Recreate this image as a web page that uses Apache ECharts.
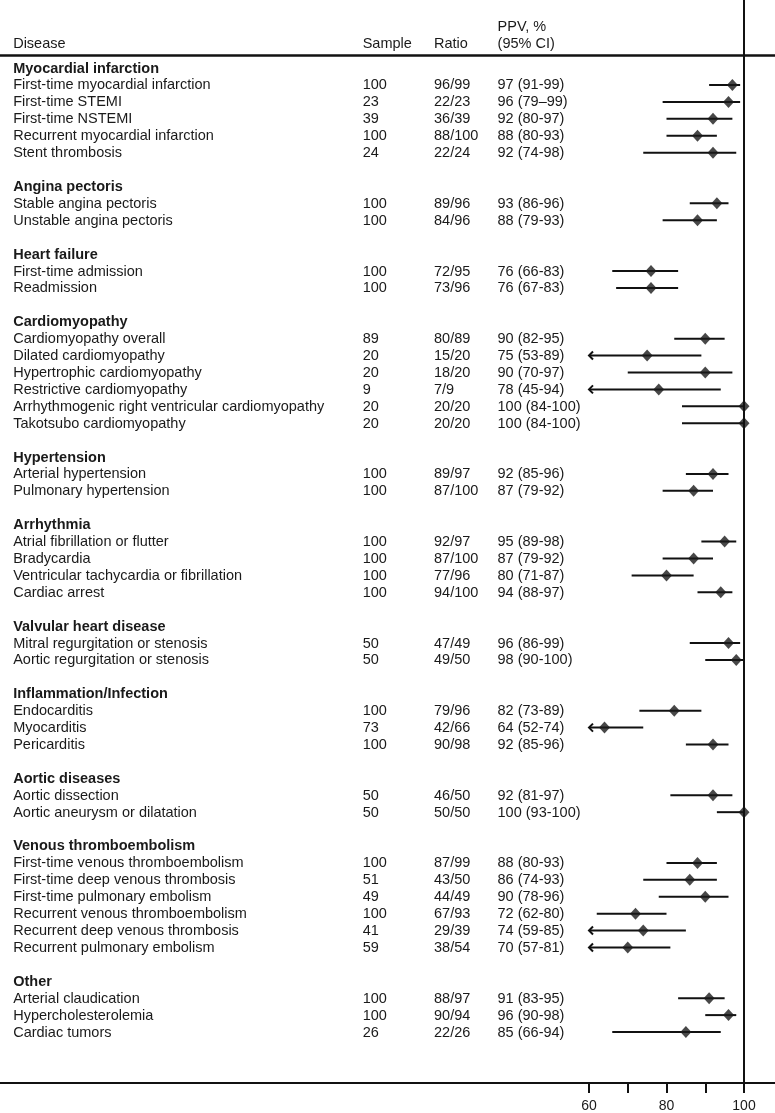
<!DOCTYPE html>
<html>
<head>
<meta charset="utf-8">
<script src="https://cdn.jsdelivr.net/npm/echarts@6/dist/echarts.min.js"></script>
<style>
html,body{margin:0;padding:0;background:#fff;}
#chart{width:775px;height:1113px;}
</style>
</head>
<body>
<div id="chart"></div>
<script>
// ---------------- data ----------------
const groupNames = ["Myocardial infarction","Angina pectoris","Heart failure","Cardiomyopathy","Hypertension","Arrhythmia","Valvular heart disease","Inflammation/Infection","Aortic diseases","Venous thromboembolism","Other"];
const groupCounts = [5,2,2,6,2,4,2,3,2,6,3];
const diseases = [
  "First-time myocardial infarction","First-time STEMI","First-time NSTEMI","Recurrent myocardial infarction","Stent thrombosis",
  "Stable angina pectoris","Unstable angina pectoris",
  "First-time admission","Readmission",
  "Cardiomyopathy overall","Dilated cardiomyopathy","Hypertrophic cardiomyopathy","Restrictive cardiomyopathy","Arrhythmogenic right ventricular cardiomyopathy","Takotsubo cardiomyopathy",
  "Arterial hypertension","Pulmonary hypertension",
  "Atrial fibrillation or flutter","Bradycardia","Ventricular tachycardia or fibrillation","Cardiac arrest",
  "Mitral regurgitation or stenosis","Aortic regurgitation or stenosis",
  "Endocarditis","Myocarditis","Pericarditis",
  "Aortic dissection","Aortic aneurysm or dilatation",
  "First-time venous thromboembolism","First-time deep venous thrombosis","First-time pulmonary embolism","Recurrent venous thromboembolism","Recurrent deep venous thrombosis","Recurrent pulmonary embolism",
  "Arterial claudication","Hypercholesterolemia","Cardiac tumors"
];
const samples = [100,23,39,100,24, 100,100, 100,100, 89,20,20,9,20,20, 100,100, 100,100,100,100, 50,50, 100,73,100, 50,50, 100,51,49,100,41,59, 100,100,26];
const ratios = ["96/99","22/23","36/39","88/100","22/24", "89/96","84/96", "72/95","73/96", "80/89","15/20","18/20","7/9","20/20","20/20", "89/97","87/100", "92/97","87/100","77/96","94/100", "47/49","49/50", "79/96","42/66","90/98", "46/50","50/50", "87/99","43/50","44/49","67/93","29/39","38/54", "88/97","90/94","22/26"];
const ppv   = [97,96,92,88,92, 93,88, 76,76, 90,75,90,78,100,100, 92,87, 95,87,80,94, 96,98, 82,64,92, 92,100, 88,86,90,72,74,70, 91,96,85];
const ciLow = [91,79,80,80,74, 86,79, 66,67, 82,53,70,45,84,84, 85,79, 89,79,71,88, 86,90, 73,52,85, 81,93, 80,74,78,62,59,57, 83,90,66];
const ciHigh= [99,99,97,93,98, 96,93, 83,83, 95,89,97,94,100,100, 96,92, 98,92,87,97, 99,100, 89,74,96, 97,100, 93,93,96,80,85,81, 95,98,94];
const ppvLabels = ["97 (91-99)","96 (79\u201399)","92 (80-97)","88 (80-93)","92 (74-98)", "93 (86-96)","88 (79-93)", "76 (66-83)","76 (67-83)", "90 (82-95)","75 (53-89)","90 (70-97)","78 (45-94)","100 (84-100)","100 (84-100)", "92 (85-96)","87 (79-92)", "95 (89-98)","87 (79-92)","80 (71-87)","94 (88-97)", "96 (86-99)","98 (90-100)", "82 (73-89)","64 (52-74)","92 (85-96)", "92 (81-97)","100 (93-100)", "88 (80-93)","86 (74-93)","90 (78-96)","72 (62-80)","74 (59-85)","70 (57-81)", "91 (83-95)","96 (90-98)","85 (66-94)"];
const headerLabels = ["Disease","Sample","Ratio","PPV, %","(95% CI)"];
const tickValues = [60,70,80,90,100];
const tickLabelValues = [60,80,100];

// ---------------- layout helpers ----------------
const AX_MIN = 60;            // lower bound of plotted range
const COL_X = [-88.6, 1.6, 20.0, 36.4]; // column anchors in x-axis units
const FONT = '"Liberation Sans", Arial, Helvetica, sans-serif';
const FS = 14.5;

const rows = [];
let k = 0, idx = 0;
groupNames.forEach((g, gi) => {
  rows.push({type:'group', name:g, idx: idx++});
  for (let j = 0; j < groupCounts[gi]; j++) {
    rows.push({type:'item', i:k++, idx: idx++});
  }
  idx++; // blank row
});

const textData = [];
rows.forEach(r => {
  if (r.type === 'group') {
    textData.push({value:[COL_X[0], r.idx], text:r.name, bold:true});
  } else {
    textData.push({value:[COL_X[0], r.idx], text:diseases[r.i]});
    textData.push({value:[COL_X[1], r.idx], text:String(samples[r.i])});
    textData.push({value:[COL_X[2], r.idx], text:ratios[r.i]});
    textData.push({value:[COL_X[3], r.idx], text:ppvLabels[r.i]});
  }
});
const HDR1 = -2.447, HDR2 = -1.466;
const headerData = [
  {value:[COL_X[0], HDR2], text:headerLabels[0]},
  {value:[COL_X[1], HDR2], text:headerLabels[1]},
  {value:[COL_X[2], HDR2], text:headerLabels[2]},
  {value:[COL_X[3], HDR1], text:headerLabels[3]},
  {value:[COL_X[3], HDR2], text:headerLabels[4]}
];

const items = rows.filter(r => r.type === 'item');
const ciData = items.map(r => [ciLow[r.i], ciHigh[r.i], r.idx]);
const ptData = items.map(r => [ppv[r.i], r.idx]);

function textRender(params, api) {
  const src = params.seriesName === 'header' ? headerData : textData;
  const it = src[params.dataIndex];
  const p = api.coord(it.value);
  return {
    type:'text',
    style:{
      x:p[0], y:p[1] + 0.5, text:it.text, fill:'#1a1a1a',
      fontSize:FS, fontFamily:FONT, fontWeight: it.bold ? 'bold' : 'normal',
      align:'left', verticalAlign:'middle'
    }
  };
}

function ciRender(params, api) {
  const lo = api.value(0), hi = api.value(1), y = api.value(2);
  const clipped = lo < AX_MIN;
  const a = api.coord([clipped ? AX_MIN : lo, y]);
  const b = api.coord([hi, y]);
  const children = [{
    type:'line',
    shape:{x1:a[0], y1:a[1], x2:b[0], y2:b[1]},
    style:{stroke:'#111', lineWidth:2}
  }];
  if (clipped) {
    children.push({
      type:'polyline',
      shape:{points:[[a[0]+4, a[1]-4],[a[0], a[1]],[a[0]+4, a[1]+4]]},
      style:{stroke:'#111', lineWidth:2, fill:null}
    });
  }
  return {type:'group', children};
}

const chart = echarts.init(document.getElementById('chart'), null, {renderer:'canvas'});
chart.setOption({
  backgroundColor:'#fff',
  animation:false,
  grid:{left:0, right:0, top:0, bottom:30, containLabel:false},
  xAxis:{
    type:'value', min:-92, max:108,
    axisLine:{show:true, onZero:false, lineStyle:{color:'#111', width:2}},
    axisTick:{show:true, customValues:tickValues, length:10, lineStyle:{color:'#111', width:2}},
    axisLabel:{show:true, customValues:tickLabelValues, fontSize:14, fontFamily:FONT, color:'#1a1a1a', margin:16},
    splitLine:{show:false}
  },
  yAxis:{
    type:'value', inverse:true, min:-4.026, max:60.015, show:false,
    axisLine:{onZero:false}, splitLine:{show:false}
  },
  series:[
    {
      name:'ci', type:'custom', renderItem:ciRender, data:ciData,
      encode:{x:[0,1], y:2}, silent:true, z:3,
      markLine:{
        silent:true, symbol:'none', animation:false,
        label:{show:false},
        data:[
          {xAxis:100, lineStyle:{color:'#111', width:2, type:'solid'}},
          {yAxis:-0.774, lineStyle:{color:'#111', width:2.5, type:'solid'}}
        ]
      }
    },
    {
      name:'ppv', type:'scatter', data:ptData, symbol:'diamond', symbolSize:[11,12],
      itemStyle:{color:'#1a1a1a'}, z:4, silent:true
    },
    {name:'text', type:'custom', renderItem:textRender, data:textData.map(t=>t.value), encode:{x:0,y:1}, silent:true, z:5},
    {name:'header', type:'custom', renderItem:textRender, data:headerData.map(t=>t.value), encode:{x:0,y:1}, silent:true, z:5}
  ]
});
</script>
</body>
</html>
